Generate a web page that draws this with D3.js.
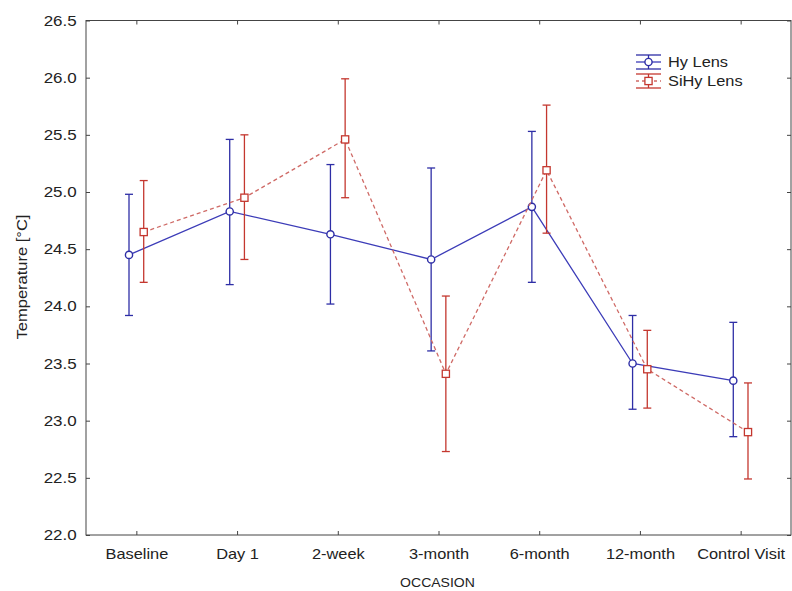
<!DOCTYPE html>
<html lang="en">

<head>
    <meta charset="UTF-8">
    <title>Temperature by occasion</title>
    <style>
        body { margin: 0; background: #fff; }
        text { font-family: "Liberation Sans", Arial, sans-serif; fill: #222; }
    </style>
</head>

<body>
    <div id="my_dataviz"></div>

    <script src="https://d3js.org/d3.v7.min.js"></script>
    <script>

        // data
        const occasions = ["Baseline", "Day 1", "2-week", "3-month", "6-month", "12-month", "Control Visit"];
        const yTicks = [22.0, 22.5, 23.0, 23.5, 24.0, 24.5, 25.0, 25.5, 26.0, 26.5];

        const hyMean = [24.45, 24.83, 24.63, 24.41, 24.87, 23.50, 23.35];
        const hyUpper = [24.98, 25.46, 25.24, 25.21, 25.53, 23.92, 23.86];
        const hyLower = [23.92, 24.19, 24.02, 23.61, 24.21, 23.10, 22.86];

        const sihyMean = [24.65, 24.95, 25.46, 23.41, 25.19, 23.45, 22.90];
        const sihyUpper = [25.10, 25.50, 25.99, 24.09, 25.76, 23.79, 23.33];
        const sihyLower = [24.21, 24.41, 24.95, 22.73, 24.64, 23.11, 22.49];

        const blue = "#2e2ea6", red = "#c4372f", redLine = "#cf6a66";
        const stretch = "scale(1.17,1)";   // the picture's text is a bit wide

        const W = 792, H = 591;
        const pLeft = 86, pRight = 791, pTop = 20.5, pBottom = 535;

        const svg = d3.select("#my_dataviz")
            .append("svg")
            .attr("width", W)
            .attr("height", H);

        const x = d3.scalePoint()
            .domain(occasions)
            .range([pLeft, pRight])
            .padding(0.5);

        const y = d3.scaleLinear()
            .domain([22, 26.5])
            .range([pBottom, pTop]);

        const off = x.step() * 0.073;

        // frame
        svg.append("rect")
            .attr("x", pLeft).attr("y", pTop)
            .attr("width", pRight - pLeft).attr("height", pBottom - pTop)
            .attr("fill", "none").attr("stroke", "#444").attr("stroke-width", 1);

        // axes, ticks pointing inward
        const gx = svg.append("g")
            .attr("transform", `translate(0, ${pBottom})`)
            .call(d3.axisBottom(x).tickSize(-4).tickPadding(14));
        gx.selectAll("text").attr("font-size", 14).attr("transform", stretch);

        const gy = svg.append("g")
            .attr("transform", `translate(${pLeft}, 0)`)
            .call(d3.axisLeft(y).tickValues(yTicks).tickSize(-4).tickPadding(8).tickFormat(d3.format(".1f")));
        gy.selectAll("text").attr("font-size", 14.5).attr("transform", stretch);

        svg.append("g")
            .attr("transform", `translate(0, ${pTop})`)
            .call(d3.axisTop(x).tickSize(-4).tickFormat(""));
        svg.append("g")
            .attr("transform", `translate(${pRight}, 0)`)
            .call(d3.axisRight(y).tickValues(yTicks).tickSize(-4).tickFormat(""));

        svg.selectAll(".domain").remove();
        svg.selectAll(".tick line").attr("stroke", "#444");
        svg.selectAll(".tick text").attr("fill", "#222").attr("font-family", "Liberation Sans, Arial, sans-serif");

        // titles
        svg.append("text")
            .attr("transform", "translate(27, 277) rotate(-90) scale(1.1,1)")
            .attr("text-anchor", "middle")
            .attr("font-size", 15)
            .text("Temperature [°C]");

        svg.append("text")
            .attr("transform", `translate(${(pLeft + pRight) / 2 - 1}, 587) scale(1.08,1)`)
            .attr("text-anchor", "middle")
            .attr("font-size", 13)
            .text("OCCASION");

        function drawSeries(mean, lower, upper, dx, color, lineColor, dash, marker) {
            const g = svg.append("g");
            const pts = occasions.map((c, i) => ({ c: c, m: mean[i], lo: lower[i], hi: upper[i] }));

            g.append("path")
                .datum(pts)
                .attr("fill", "none")
                .attr("stroke", lineColor)
                .attr("stroke-width", 1.3)
                .attr("stroke-dasharray", dash)
                .attr("d", d3.line().x(d => x(d.c) + dx).y(d => y(d.m)));

            const bars = g.selectAll(".bar").data(pts).join("g")
                .attr("stroke", color).attr("stroke-width", 1.3);
            bars.append("line")
                .attr("x1", d => x(d.c) + dx).attr("x2", d => x(d.c) + dx)
                .attr("y1", d => y(d.lo)).attr("y2", d => y(d.hi));
            bars.append("line")
                .attr("x1", d => x(d.c) + dx - 4).attr("x2", d => x(d.c) + dx + 4)
                .attr("y1", d => y(d.hi)).attr("y2", d => y(d.hi));
            bars.append("line")
                .attr("x1", d => x(d.c) + dx - 4).attr("x2", d => x(d.c) + dx + 4)
                .attr("y1", d => y(d.lo)).attr("y2", d => y(d.lo));

            if (marker === "circle") {
                g.selectAll("circle").data(pts).join("circle")
                    .attr("cx", d => x(d.c) + dx).attr("cy", d => y(d.m)).attr("r", 3.6)
                    .attr("fill", "#fff").attr("stroke", color).attr("stroke-width", 1.4);
            } else {
                g.selectAll("rect").data(pts).join("rect")
                    .attr("x", d => x(d.c) + dx - 3.6).attr("y", d => y(d.m) - 3.6)
                    .attr("width", 7.2).attr("height", 7.2)
                    .attr("fill", "#fff").attr("stroke", color).attr("stroke-width", 1.3);
            }
        }

        drawSeries(hyMean, hyLower, hyUpper, -off, blue, "#3c3cb8", null, "circle");
        drawSeries(sihyMean, sihyLower, sihyUpper, off, red, redLine, "4,3", "square");

        // legend
        const legend = [
            { name: "Hy Lens", color: blue, line: "#3c3cb8", dash: null, marker: "circle", cy: 62 },
            { name: "SiHy Lens", color: red, line: redLine, dash: "3,3", marker: "square", cy: 81 }
        ];
        const lx0 = 636, lx1 = 661, lxc = (lx0 + lx1) / 2;
        legend.forEach(function (d) {
            const g = svg.append("g");
            g.append("line").attr("x1", lx0).attr("x2", lx1).attr("y1", d.cy - 7).attr("y2", d.cy - 7)
                .attr("stroke", d.color).attr("stroke-width", 1.3);
            g.append("line").attr("x1", lx0).attr("x2", lx1).attr("y1", d.cy + 7).attr("y2", d.cy + 7)
                .attr("stroke", d.color).attr("stroke-width", 1.3);
            g.append("line").attr("x1", lxc).attr("x2", lxc).attr("y1", d.cy - 7).attr("y2", d.cy + 7)
                .attr("stroke", d.color).attr("stroke-width", 1.3);
            g.append("line").attr("x1", lx0).attr("x2", lx1).attr("y1", d.cy).attr("y2", d.cy)
                .attr("stroke", d.line).attr("stroke-width", 1.3).attr("stroke-dasharray", d.dash);
            if (d.marker === "circle") {
                g.append("circle").attr("cx", lxc).attr("cy", d.cy).attr("r", 3.6)
                    .attr("fill", "#fff").attr("stroke", d.color).attr("stroke-width", 1.4);
            } else {
                g.append("rect").attr("x", lxc - 3.6).attr("y", d.cy - 3.6).attr("width", 7.2).attr("height", 7.2)
                    .attr("fill", "#fff").attr("stroke", d.color).attr("stroke-width", 1.3);
            }
            g.append("text")
                .attr("transform", `translate(668, ${d.cy + 5}) ${stretch}`)
                .attr("font-size", 14)
                .text(d.name);
        });

    </script>
</body>

</html>
